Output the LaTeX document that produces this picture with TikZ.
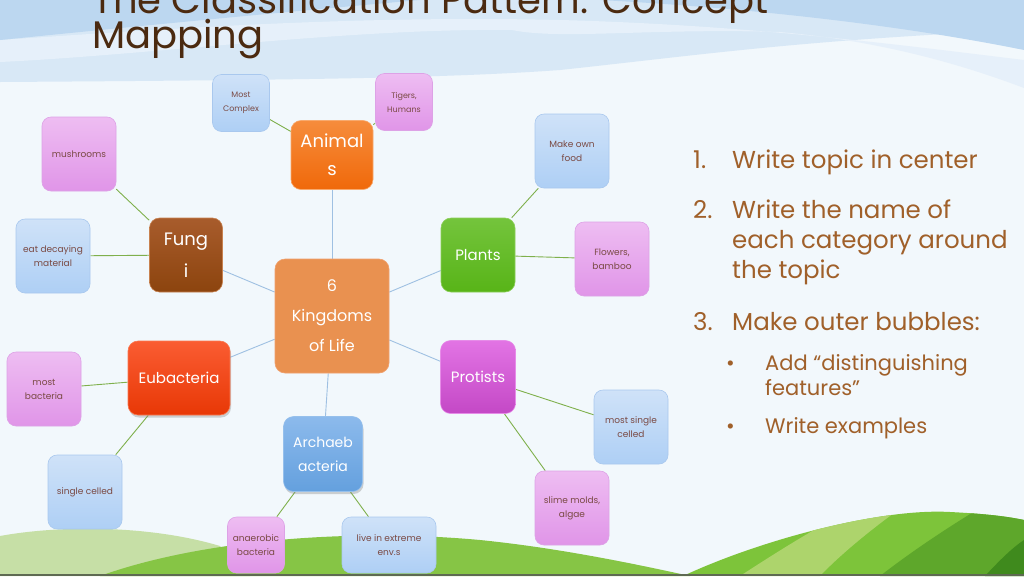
\documentclass[tikz,border=0pt]{standalone}
\usepackage{fontspec}
\setmainfont{Poppins}
\usetikzlibrary{shadows,backgrounds}
\definecolor{bgbase}{HTML}{F2F8FC}
\definecolor{skyA}{HTML}{D8E8F6}
\definecolor{skyB}{HTML}{BCD7F0}
\definecolor{skyC}{HTML}{E6F0FA}
\definecolor{hillPale}{HTML}{C6DFA6}
\definecolor{hillMid}{HTML}{86C545}
\definecolor{hillG}{HTML}{7DC43A}
\definecolor{hillL}{HTML}{ADD46C}
\definecolor{hillD}{HTML}{5EA72B}
\definecolor{hillDD}{HTML}{3F8A1D}
\definecolor{bottomline}{HTML}{5E6A52}
\definecolor{titlec}{HTML}{4B2A10}
\definecolor{listc}{HTML}{A0602A}
\definecolor{outtxt}{HTML}{7A4A44}
\definecolor{bTop}{HTML}{CFE2F8}
\definecolor{bBot}{HTML}{AECFF5}
\definecolor{bBrd}{HTML}{A9C8EE}
\definecolor{pTop}{HTML}{EEBDF2}
\definecolor{pBot}{HTML}{E095E8}
\definecolor{pBrd}{HTML}{DDA2E6}
\definecolor{linkB}{HTML}{9FC0E2}
\definecolor{linkG}{HTML}{7FB04C}
\definecolor{ctrFill}{HTML}{E99150}
\definecolor{ctrBrd}{HTML}{F0A06E}
\definecolor{aniTop}{HTML}{F68C3C}
\definecolor{aniBot}{HTML}{F0690A}
\definecolor{aniBrd}{HTML}{F8AA6E}
\definecolor{funTop}{HTML}{A85C2C}
\definecolor{funBot}{HTML}{8C440E}
\definecolor{funBrd}{HTML}{C88250}
\definecolor{plaTop}{HTML}{74C43C}
\definecolor{plaBot}{HTML}{58B418}
\definecolor{plaBrd}{HTML}{8CCE5A}
\definecolor{proTop}{HTML}{E274E4}
\definecolor{proBot}{HTML}{C448C6}
\definecolor{proBrd}{HTML}{E68CE8}
\definecolor{eubTop}{HTML}{FA5C32}
\definecolor{eubBot}{HTML}{E83806}
\definecolor{eubBrd}{HTML}{FA7850}
\definecolor{arcTop}{HTML}{8CBAEC}
\definecolor{arcBot}{HTML}{64A0DE}
\definecolor{arcBrd}{HTML}{96C0EC}
\tikzset{
  x=1pt,y=-1pt,
  outer/.style={rounded corners=9pt, line width=0.6pt, minimum width=74pt, minimum height=74pt,
    align=center, inner sep=2pt, text=outtxt, font=\fontsize{9}{14}\selectfont},
  blueout/.style={outer, top color=bTop, bottom color=bBot, draw=bBrd},
  pinkout/.style={outer, top color=pTop, bottom color=pBot, draw=pBrd},
  mainbox/.style={rounded corners=10pt, line width=0.6pt, align=center, inner sep=2pt,
    text=white, font=\fontsize{15}{24}\selectfont},
  shad/.style={drop shadow={opacity=0.35, shadow xshift=1pt, shadow yshift=-2.5pt}},
  linkb/.style={draw=linkB, line width=0.9pt},
  linkg/.style={draw=linkG, line width=0.9pt},
  listtxt/.style={anchor=base west, inner sep=0pt, text=listc, font=\fontsize{24.5}{28}\selectfont},
  bultxt/.style={anchor=base west, inner sep=0pt, text=listc, font=\fontsize{21}{24}\selectfont},
  titletxt/.style={anchor=base west, inner sep=0pt, text=titlec, font=\fontsize{38.5}{42}\selectfont}
}
\begin{document}
\begin{tikzpicture}
\useasboundingbox (0,0) rectangle (1024,576);
\clip (0,0) rectangle (1024,576);
% ---------- nodes ----------
\node[mainbox, minimum width=114pt, minimum height=114pt, fill=ctrFill, draw=ctrBrd, font=\fontsize{16}{30}\selectfont] (ctr) at (332,316) {6\\Kingdoms\\of Life};
\node[mainbox, minimum width=82pt, minimum height=69pt, top color=aniTop, bottom color=aniBot, draw=aniBrd, font=\fontsize{18}{28}\selectfont] (ani) at (332,155) {Animal\\s};
\node[mainbox, minimum width=73pt, minimum height=74pt, top color=funTop, bottom color=funBot, draw=funBrd, font=\fontsize{18}{32}\selectfont] (fun) at (186,255) {Fung\\i};
\node[mainbox, minimum width=74pt, minimum height=74pt, top color=plaTop, bottom color=plaBot, draw=plaBrd] (pla) at (478,255) {Plants};
\node[mainbox, minimum width=75pt, minimum height=73pt, top color=proTop, bottom color=proBot, draw=proBrd] (pro) at (478,377) {Protists};
\node[mainbox, shad, minimum width=102pt, minimum height=74pt, top color=eubTop, bottom color=eubBot, draw=eubBrd] (eub) at (179,378) {Eubacteria};
\node[mainbox, shad, minimum width=79pt, minimum height=75pt, top color=arcTop, bottom color=arcBot, draw=arcBrd, font=\fontsize{14}{24}\selectfont] (arc) at (323,454) {Archaeb\\acteria};
% outer bubbles
\node[blueout, minimum width=57pt, minimum height=57pt, font=\fontsize{8}{14}\selectfont] (mc) at (241,103) {Most\\Complex};
\node[pinkout, minimum width=57pt, minimum height=57pt, font=\fontsize{8}{14}\selectfont] (tig) at (404,102) {Tigers,\\Humans};
\node[pinkout] (mus) at (79,154) {mushrooms};
\node[blueout] (eat) at (53,256) {eat decaying\\material};
\node[blueout] (mof) at (572,151) {Make own\\food};
\node[pinkout] (flo) at (612,259) {Flowers,\\bamboo};
\node[pinkout] (mb) at (44,389) {most\\bacteria};
\node[blueout] (sc) at (85,492) {single celled};
\node[blueout] (msc) at (631,427) {most single\\celled};
\node[pinkout] (sli) at (572,508) {slime molds,\\algae};
\node[pinkout, minimum width=57pt, minimum height=56pt] (ana) at (256,545) {anaerobic\\bacteria};
\node[blueout, minimum width=94pt, minimum height=56pt] (liv) at (389,545) {live in extreme\\env.s};
% title
\node[titletxt] (t1) at (92,13) {The Classification Pattern: Concept};
\node[titletxt] (t2) at (92,48) {Mapping};
% list
\node[listtxt] (n1) at (693,168) {1.};
\node[listtxt] (l1) at (732,168) {Write topic in center};
\node[listtxt] (n2) at (693,218) {2.};
\node[listtxt] (l2a) at (732,218) {Write the name of};
\node[listtxt] (l2b) at (732,248) {each category around};
\node[listtxt] (l2c) at (732,278) {the topic};
\node[listtxt] (n3) at (693,330) {3.};
\node[listtxt] (l3) at (732,330) {Make outer bubbles:};
\node[bultxt] (b1) at (726,370) {•};
\node[bultxt] (b1a) at (765,370) {Add “distinguishing};
\node[bultxt] (b1b) at (765,395) {features”};
\node[bultxt] (b2) at (726,433) {•};
\node[bultxt] (b2a) at (765,433) {Write examples};
% ---------- background layer ----------
\begin{pgfonlayer}{background}
\fill[bgbase] (0,0) rectangle (1024,576);
\fill[skyA] (0,0) -- (1024,0) -- (1024,30) .. controls (800,40) and (700,55) .. (560,70) .. controls (450,78) and (300,80) .. (0,82) -- cycle;
\fill[skyC] (0,40) .. controls (150,30) and (350,15) .. (560,20) .. controls (750,25) and (900,45) .. (1024,60) -- (1024,88) .. controls (950,60) and (870,40) .. (780,32) .. controls (650,28) and (560,40) .. (512,30) .. controls (350,28) and (150,55) .. (0,62) -- cycle;
\fill[skyB] (0,0) -- (420,0) .. controls (250,15) and (100,30) .. (0,40) -- cycle;
\fill[skyB] (600,0) -- (1024,0) -- (1024,50) .. controls (900,25) and (750,8) .. (600,0) -- cycle;
% hills
\fill[hillPale] (0,576) -- (0,536) .. controls (60,525) and (150,525) .. (220,546) -- (250,576) -- cycle;
\fill[hillMid] (100,576) .. controls (200,540) and (350,528) .. (480,540) .. controls (560,548) and (640,565) .. (690,576) -- cycle;
\begin{scope}
\clip (683,576) .. controls (760,540) and (880,508) .. (950,512) .. controls (990,514) and (1010,517) .. (1024,520) -- (1024,576) -- cycle;
\fill[hillG] (600,500) rectangle (1024,576);
\fill[hillL] (740,576) .. controls (780,550) and (820,525) .. (860,505) -- (905,505) .. controls (870,530) and (840,555) .. (820,576) -- cycle;
\fill[hillD] (880,576) .. controls (920,545) and (960,520) .. (985,505) -- (1024,505) -- (1024,576) -- cycle;
\fill[hillDD] (985,576) .. controls (1000,560) and (1012,548) .. (1024,540) -- (1024,576) -- cycle;
\end{scope}
\fill[bottomline] (0,574) rectangle (1024,576);
% connectors
\draw[linkb] (ctr) -- (ani);
\draw[linkb] (ctr) -- (fun);
\draw[linkb] (ctr) -- (pla);
\draw[linkb] (ctr) -- (pro);
\draw[linkb] (ctr) -- (eub);
\draw[linkb] (ctr) -- (arc);
\draw[linkg] (ani) -- (mc);
\draw[linkg] (ani) -- (tig);
\draw[linkg] (fun) -- (mus);
\draw[linkg] (fun) -- (eat);
\draw[linkg] (pla) -- (mof);
\draw[linkg] (pla) -- (flo);
\draw[linkg] (eub) -- (mb);
\draw[linkg] (eub) -- (sc);
\draw[linkg] (pro) -- (msc);
\draw[linkg] (pro) -- (sli);
\draw[linkg] (arc) -- (ana);
\draw[linkg] (arc) -- (liv);
\end{pgfonlayer}
\end{tikzpicture}
\end{document}
